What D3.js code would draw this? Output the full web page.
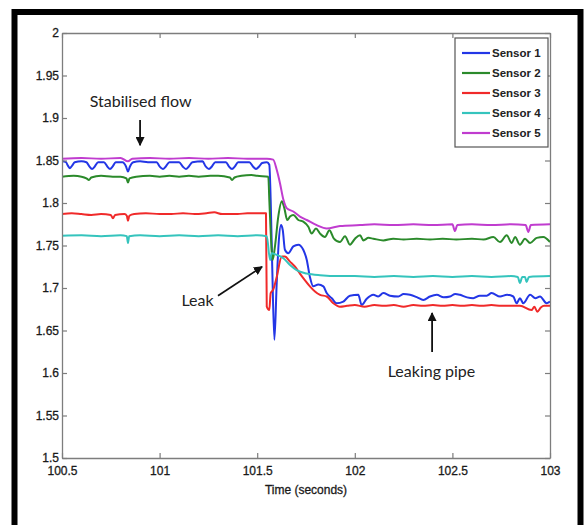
<!DOCTYPE html>
<html>
<head>
<meta charset="utf-8">
<script src="https://cdn.jsdelivr.net/npm/d3@7"></script>
<style>
  body { margin: 0; background: #fff; }
</style>
</head>
<body>
<div id="chart"></div>
<script>
// data: [time (s), pressure]
const sensorNames = ['Sensor 1', 'Sensor 2', 'Sensor 3', 'Sensor 4', 'Sensor 5']

const sensor1 = [
  [100.5, 1.849], [100.52, 1.848], [100.53, 1.844], [100.541, 1.841], [100.552, 1.844], [100.565, 1.848],
  [100.6, 1.849], [100.625, 1.848], [100.64, 1.843], [100.654, 1.840], [100.668, 1.843], [100.685, 1.848],
  [100.715, 1.848], [100.732, 1.843], [100.746, 1.840], [100.76, 1.843], [100.775, 1.848],
  [100.81, 1.848], [100.828, 1.843], [100.838, 1.837], [100.848, 1.843], [100.865, 1.848],
  [100.9, 1.849], [100.94, 1.848], [100.985, 1.848], [101.0, 1.843], [101.017, 1.840], [101.032, 1.843], [101.05, 1.848],
  [101.1, 1.848], [101.118, 1.843], [101.135, 1.840], [101.15, 1.843], [101.168, 1.848],
  [101.22, 1.849], [101.236, 1.843], [101.253, 1.840], [101.268, 1.843], [101.285, 1.848],
  [101.34, 1.848], [101.355, 1.843], [101.371, 1.840], [101.386, 1.843], [101.402, 1.848],
  [101.46, 1.848], [101.478, 1.843], [101.494, 1.840], [101.51, 1.843], [101.525, 1.847], [101.55, 1.848],
  [101.562, 1.845], [101.569, 1.804], [101.577, 1.725], [101.588, 1.639], [101.6, 1.706], [101.61, 1.753],
  [101.622, 1.774], [101.631, 1.768], [101.642, 1.745], [101.659, 1.741], [101.685, 1.749], [101.711, 1.751],
  [101.736, 1.745], [101.754, 1.733], [101.77, 1.713], [101.787, 1.702], [101.813, 1.704], [101.839, 1.702],
  [101.856, 1.694], [101.882, 1.688], [101.907, 1.682], [101.941, 1.684], [101.975, 1.691], [102.018, 1.692],
  [102.035, 1.680], [102.06, 1.687], [102.095, 1.692], [102.12, 1.690], [102.146, 1.694], [102.18, 1.691],
  [102.223, 1.690], [102.25, 1.693], [102.283, 1.692], [102.32, 1.689], [102.351, 1.686], [102.385, 1.690],
  [102.42, 1.692], [102.455, 1.689], [102.488, 1.690], [102.515, 1.693], [102.539, 1.692], [102.575, 1.689],
  [102.607, 1.688], [102.64, 1.691], [102.676, 1.691], [102.701, 1.694], [102.744, 1.690], [102.78, 1.692],
  [102.812, 1.690], [102.829, 1.682], [102.846, 1.688], [102.863, 1.682], [102.898, 1.692], [102.925, 1.688],
  [102.949, 1.690], [102.983, 1.682], [103.0, 1.684]
]

const sensor2 = [
  [100.5, 1.831], [100.56, 1.832], [100.6, 1.831], [100.625, 1.829], [100.638, 1.827], [100.65, 1.830],
  [100.7, 1.832], [100.76, 1.831], [100.8, 1.831], [100.83, 1.829], [100.838, 1.824], [100.846, 1.829],
  [100.88, 1.831], [100.95, 1.832], [101.0, 1.831], [101.05, 1.832], [101.1, 1.831], [101.15, 1.832],
  [101.2, 1.831], [101.26, 1.832], [101.3, 1.832], [101.36, 1.830], [101.371, 1.827], [101.384, 1.830],
  [101.42, 1.832], [101.47, 1.833], [101.5, 1.832], [101.557, 1.831],
  [101.562, 1.804], [101.574, 1.745], [101.579, 1.733], [101.591, 1.749], [101.608, 1.784], [101.626, 1.802],
  [101.639, 1.794], [101.654, 1.780], [101.668, 1.784], [101.685, 1.786], [101.711, 1.780], [101.736, 1.778],
  [101.762, 1.772], [101.779, 1.764], [101.801, 1.770], [101.822, 1.764], [101.847, 1.760], [101.87, 1.768],
  [101.893, 1.758], [101.924, 1.754], [101.95, 1.761], [101.975, 1.751], [102.001, 1.758], [102.027, 1.762],
  [102.044, 1.756], [102.07, 1.759], [102.095, 1.758], [102.146, 1.756], [102.197, 1.758], [102.25, 1.757],
  [102.317, 1.758], [102.385, 1.757], [102.45, 1.758], [102.52, 1.757], [102.6, 1.758], [102.66, 1.757],
  [102.71, 1.760], [102.744, 1.754], [102.778, 1.762], [102.804, 1.753], [102.821, 1.760], [102.846, 1.751],
  [102.872, 1.758], [102.898, 1.753], [102.932, 1.759], [102.966, 1.760], [103.0, 1.754]
]

const sensor3 = [
  [100.5, 1.787], [100.55, 1.788], [100.6, 1.787], [100.65, 1.786], [100.7, 1.787], [100.75, 1.786],
  [100.761, 1.782], [100.772, 1.786], [100.82, 1.787], [100.832, 1.785], [100.838, 1.779], [100.845, 1.785],
  [100.87, 1.787], [100.93, 1.788], [101.0, 1.787], [101.06, 1.787], [101.12, 1.788], [101.18, 1.787],
  [101.24, 1.788], [101.28, 1.789], [101.32, 1.787], [101.4, 1.787], [101.45, 1.788], [101.5, 1.788], [101.545, 1.788],
  [101.549, 1.678], [101.562, 1.674], [101.569, 1.694], [101.582, 1.698], [101.6, 1.713], [101.626, 1.737],
  [101.642, 1.737], [101.668, 1.731], [101.694, 1.725], [101.719, 1.717], [101.745, 1.709], [101.77, 1.702],
  [101.796, 1.696], [101.822, 1.692], [101.856, 1.690], [101.89, 1.682], [101.924, 1.678], [101.96, 1.679],
  [102.0, 1.680], [102.05, 1.678], [102.1, 1.680], [102.15, 1.679], [102.2, 1.680], [102.25, 1.678],
  [102.3, 1.680], [102.35, 1.679], [102.4, 1.680], [102.45, 1.679], [102.5, 1.680], [102.55, 1.679],
  [102.6, 1.680], [102.65, 1.679], [102.7, 1.680], [102.75, 1.679], [102.8, 1.679], [102.846, 1.679],
  [102.905, 1.674], [102.92, 1.678], [102.935, 1.672], [102.953, 1.677], [102.97, 1.679], [103.0, 1.679]
]

const sensor4 = [
  [100.5, 1.7615], [100.6, 1.762], [100.7, 1.761], [100.8, 1.762], [100.832, 1.761], [100.838, 1.753],
  [100.844, 1.761], [100.9, 1.762], [101.0, 1.761], [101.1, 1.762], [101.2, 1.761], [101.3, 1.762],
  [101.4, 1.761], [101.5, 1.762], [101.549, 1.761],
  [101.566, 1.733], [101.574, 1.741], [101.6, 1.739], [101.634, 1.735], [101.668, 1.727], [101.702, 1.721],
  [101.754, 1.717], [101.822, 1.715], [101.924, 1.714], [102.0, 1.714], [102.1, 1.713], [102.2, 1.714],
  [102.3, 1.713], [102.4, 1.714], [102.5, 1.713], [102.6, 1.714], [102.7, 1.713], [102.8, 1.714],
  [102.835, 1.713], [102.846, 1.706], [102.858, 1.713], [102.872, 1.713], [102.88, 1.707], [102.892, 1.713],
  [103.0, 1.714]
]

const sensor5 = [
  [100.5, 1.852], [100.6, 1.853], [100.7, 1.852], [100.8, 1.853], [100.838, 1.849], [100.86, 1.852],
  [100.95, 1.853], [101.05, 1.852], [101.15, 1.853], [101.25, 1.852], [101.35, 1.853], [101.45, 1.852],
  [101.55, 1.852], [101.582, 1.851],
  [101.6, 1.839], [101.617, 1.823], [101.634, 1.804], [101.651, 1.794], [101.685, 1.790], [101.719, 1.784],
  [101.754, 1.780], [101.805, 1.774], [101.856, 1.770], [101.924, 1.773], [102.027, 1.774], [102.1, 1.775],
  [102.2, 1.774], [102.3, 1.775], [102.4, 1.774], [102.5, 1.775], [102.513, 1.767], [102.525, 1.774],
  [102.6, 1.775], [102.7, 1.774], [102.8, 1.775], [102.875, 1.774], [102.889, 1.766], [102.902, 1.774],
  [103.0, 1.775]
]

const xTicks = [100.5, 101, 101.5, 102, 102.5, 103]
const yTicks = [1.5, 1.55, 1.6, 1.65, 1.7, 1.75, 1.8, 1.85, 1.9, 1.95, 2]

const colors = ['#2336e6', '#2b8a2b', '#f02a2a', '#35c4bd', '#c03ccf']

const width = 588
const height = 525
const margin = { top: 33, left: 62, right: 38, bottom: 67 }

const svg = d3
  .select('#chart')
  .append('svg')
  .attr('width', width)
  .attr('height', height)

const x = d3
  .scaleLinear()
  .domain([100.5, 103])
  .range([margin.left, width - margin.right])

const y = d3
  .scaleLinear()
  .domain([1.5, 2])
  .range([height - margin.bottom, margin.top])

// black picture frame
svg
  .append('rect')
  .attr('x', 14.5)
  .attr('y', 12)
  .attr('width', 566)
  .attr('height', 600)
  .attr('fill', 'none')
  .attr('stroke', '#000')
  .attr('stroke-width', 6)

svg
  .append('clipPath')
  .attr('id', 'plot-clip')
  .append('rect')
  .attr('x', x.range()[0])
  .attr('y', y.range()[1])
  .attr('width', x.range()[1] - x.range()[0])
  .attr('height', y.range()[0] - y.range()[1])

// lines
const line = d3
  .line()
  .curve(d3.curveMonotoneX)
  .x(d => x(d[0]))
  .y(d => y(d[1]))

const series = [sensor1, sensor2, sensor3, sensor4, sensor5]

svg
  .append('g')
  .attr('clip-path', 'url(#plot-clip)')
  .selectAll('path')
  .data(series)
  .enter()
  .append('path')
  .attr('d', line)
  .attr('fill', 'none')
  .attr('stroke', (d, i) => colors[i])
  .attr('stroke-width', 2)
  .attr('stroke-linejoin', 'round')

// axes, MATLAB style box with inward ticks
const axisColor = '#7d7d7d'

function styleAxis(g) {
  g.select('.domain').attr('stroke', axisColor).attr('stroke-width', 1.3)
  g.selectAll('.tick line').attr('stroke', axisColor).attr('stroke-width', 1.2)
  g.selectAll('.tick text')
    .attr('fill', '#1a1a1a')
    .attr('stroke', '#1a1a1a')
    .attr('stroke-width', 0.3)
    .style('font-family', '"Liberation Sans", Arial, sans-serif')
    .style('font-size', '12px')
}

svg
  .append('g')
  .attr('transform', `translate(0,${y(1.5)})`)
  .call(d3.axisBottom(x).tickValues(xTicks).tickSize(-5).tickSizeOuter(0).tickPadding(8).tickFormat(d => d))
  .call(styleAxis)

svg
  .append('g')
  .attr('transform', `translate(0,${y(2)})`)
  .call(d3.axisTop(x).tickValues(xTicks).tickSize(-5).tickSizeOuter(0).tickFormat(''))
  .call(styleAxis)

svg
  .append('g')
  .attr('transform', `translate(${x(100.5)},0)`)
  .call(d3.axisLeft(y).tickValues(yTicks).tickSize(-5).tickSizeOuter(0).tickPadding(3).tickFormat(d => d))
  .call(styleAxis)

svg
  .append('g')
  .attr('transform', `translate(${x(103)},0)`)
  .call(d3.axisRight(y).tickValues(yTicks).tickSize(-5).tickSizeOuter(0).tickFormat(''))
  .call(styleAxis)

svg
  .append('text')
  .text('Time (seconds)')
  .attr('x', (x.range()[0] + x.range()[1]) / 2)
  .attr('y', 494)
  .attr('text-anchor', 'middle')
  .attr('fill', '#1a1a1a')
  .attr('stroke', '#1a1a1a')
  .attr('stroke-width', 0.3)
  .style('font-family', '"Liberation Sans", Arial, sans-serif')
  .style('font-size', '12px')

// legend
const legend = svg.append('g').attr('transform', 'translate(455,38)')

legend
  .append('rect')
  .attr('width', 93)
  .attr('height', 109)
  .attr('fill', '#fff')
  .attr('stroke', '#555')
  .attr('stroke-width', 1.2)

const item = legend
  .selectAll('.item')
  .data(sensorNames)
  .enter()
  .append('g')
  .attr('class', 'item')
  .attr('transform', (d, i) => `translate(0,${15 + i * 20})`)

item
  .append('line')
  .attr('x1', 7)
  .attr('x2', 35)
  .attr('stroke', (d, i) => colors[i])
  .attr('stroke-width', 2.2)

item
  .append('text')
  .text(d => d)
  .attr('x', 37)
  .attr('dy', '0.36em')
  .attr('fill', '#222')
  .style('font-family', '"Liberation Sans", Arial, sans-serif')
  .style('font-size', '11.5px')
  .style('font-weight', 'bold')

// annotations
svg
  .append('defs')
  .append('marker')
  .attr('id', 'head')
  .attr('viewBox', '0 0 10 10')
  .attr('refX', 9)
  .attr('refY', 5)
  .attr('markerWidth', 5)
  .attr('markerHeight', 5)
  .attr('orient', 'auto')
  .append('path')
  .attr('d', 'M0,0L10,5L0,10z')
  .attr('fill', '#111')

const notes = [
  { text: 'Stabilised flow', tx: 100.903, ty: 1.919, from: [100.9, 1.8976], to: [100.9, 1.868] },
  { text: 'Leak', tx: 101.194, ty: 1.686, from: [101.299, 1.691], to: [101.525, 1.725] },
  { text: 'Leaking pipe', tx: 102.393, ty: 1.6015, from: [102.396, 1.6247], to: [102.396, 1.6706] }
]

svg
  .selectAll('.note-arrow')
  .data(notes)
  .enter()
  .append('line')
  .attr('class', 'note-arrow')
  .attr('x1', d => x(d.from[0]))
  .attr('y1', d => y(d.from[1]))
  .attr('x2', d => x(d.to[0]))
  .attr('y2', d => y(d.to[1]))
  .attr('stroke', '#111')
  .attr('stroke-width', 1.8)
  .attr('marker-end', 'url(#head)')

svg
  .selectAll('.note-text')
  .data(notes)
  .enter()
  .append('text')
  .attr('class', 'note-text')
  .text(d => d.text)
  .attr('x', d => x(d.tx))
  .attr('y', d => y(d.ty))
  .attr('dy', '0.35em')
  .attr('text-anchor', 'middle')
  .attr('fill', '#222')
  .style('font-family', 'Lato, "Open Sans", sans-serif')
  .style('font-size', '16px')
</script>
</body>
</html>
